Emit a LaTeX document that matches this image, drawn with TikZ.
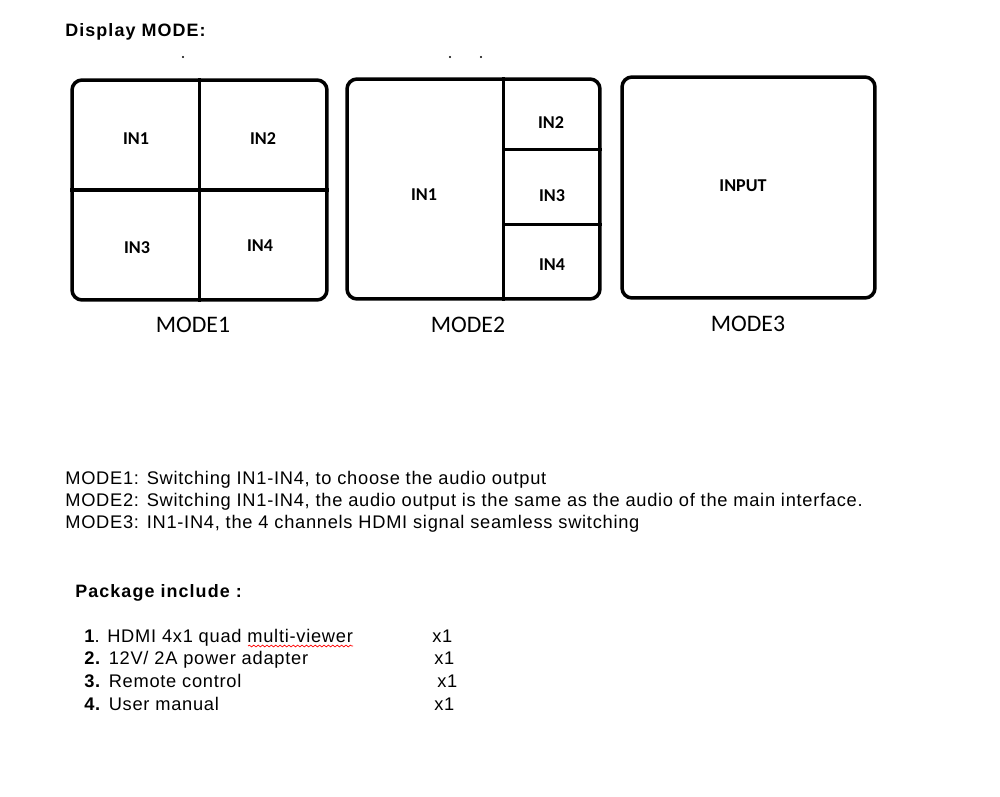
\documentclass[tikz,border=0pt]{standalone}
\usepackage{fontspec}
\usepackage{tikz}
\usetikzlibrary{calc,decorations.pathmorphing}
\setmainfont{Liberation Sans}
\newfontfamily\calibri{Carlito}
\def\inlbl#1#2#3{\node [inlbl] (#1) at (#2) {#3}}
\tikzstyle{screen}=[draw,line width=2pt,rounded corners=0.2cm,inner sep=0pt]
\tikzstyle{split}=[line width=2pt]
\tikzstyle{inlbl}=[font=\calibri\bfseries\fontsize{10.3}{12}\selectfont]
\tikzstyle{modelbl}=[font=\calibri\fontsize{13.5}{16}\selectfont]
\tikzstyle{txt}=[anchor=base west,inner sep=0pt,font=\fontsize{10.4}{12}\selectfont\addfontfeature{LetterSpace=4}]
\tikzstyle{head}=[anchor=base west,inner sep=0pt,font=\bfseries\fontsize{10.2}{12}\selectfont\addfontfeature{LetterSpace=6}]

\begin{document}
\begin{tikzpicture}[x=0.02cm,y=-0.02cm]
    \useasboundingbox (0,0) rectangle (1000,797);
    \node[head] (title) at (65,37) {Display MODE:};
    \foreach \x in {183,450,481} \fill (\x,57) circle (0.6pt);
    % mode 1: four equal windows
    \node[screen,minimum width=5.1cm,minimum height=4.4cm] (m1) at (199.5,190) {};
    \draw[split] (m1.north) -- (m1.south);
    \draw[split] (m1.west) -- (m1.east);
    \inlbl{m1a}{136,139}{IN1}; \inlbl{m1b}{263,139}{IN2};
    \inlbl{m1c}{137,248}{IN3}; \inlbl{m1d}{260,246}{IN4};
    \node[modelbl] (mode1) at (193,325) {MODE1};
    % mode 2: main window and three small ones
    \node[screen,minimum width=5.06cm,minimum height=4.4cm] (m2) at (473.5,189) {};
    \coordinate (vtop) at ($(m2.north west)!0.617!(m2.north east)$);
    \coordinate (vbot) at ($(m2.south west)!0.617!(m2.south east)$);
    \coordinate (hup) at ($(m2.north east)!0.323!(m2.south east)$);
    \coordinate (hdn) at ($(m2.north east)!0.659!(m2.south east)$);
    \draw[split] (vtop) -- (vbot);
    \draw[split] (hup) -- (hup -| vtop);
    \draw[split] (hdn) -- (hdn -| vtop);
    \inlbl{m2a}{424,195}{IN1}; \inlbl{m2b}{551,123}{IN2};
    \inlbl{m2c}{552,196}{IN3}; \inlbl{m2d}{552,265}{IN4};
    \node[modelbl] (mode2) at (468,325) {MODE2};
    % mode 3: one input full screen
    \node[screen,minimum width=5.06cm,minimum height=4.42cm] (m3) at (748.5,187.5) {};
    \inlbl{m3a}{743,186}{INPUT};
    \node[modelbl] (mode3) at (748,324) {MODE3};
    % notes
    \node[txt] (note1) at (65,484) {MODE1: Switching IN1-IN4, to choose the audio output};
    \node[txt] (note2) at (65,506) {MODE2: Switching IN1-IN4, the audio output is the same as the audio of the main interface.};
    \node[txt] (note3) at (65,528) {MODE3: IN1-IN4, the 4 channels HDMI signal seamless switching};
    % package list
    \node[head] (pack) at (75,597) {Package include :};
    \node[txt] (item1) at (84,642) {\textbf{1}. HDMI 4x1 quad multi-viewer};
    \node[txt] (item2) at (84,664) {\textbf{2.} 12V/ 2A power adapter};
    \node[txt] (item3) at (84,687) {\textbf{3.} Remote control};
    \node[txt] (item4) at (84,710) {\textbf{4.} User manual};
    \node[txt] (qty1) at (432,642) {x1};
    \node[txt] (qty2) at (434,664) {x1};
    \node[txt] (qty3) at (437,687) {x1};
    \node[txt] (qty4) at (434,710) {x1};
    \draw[red,decorate,decoration={snake,amplitude=0.5pt,segment length=2.5pt}] (248,646) -- (353,646);
\end{tikzpicture}
\end{document}
